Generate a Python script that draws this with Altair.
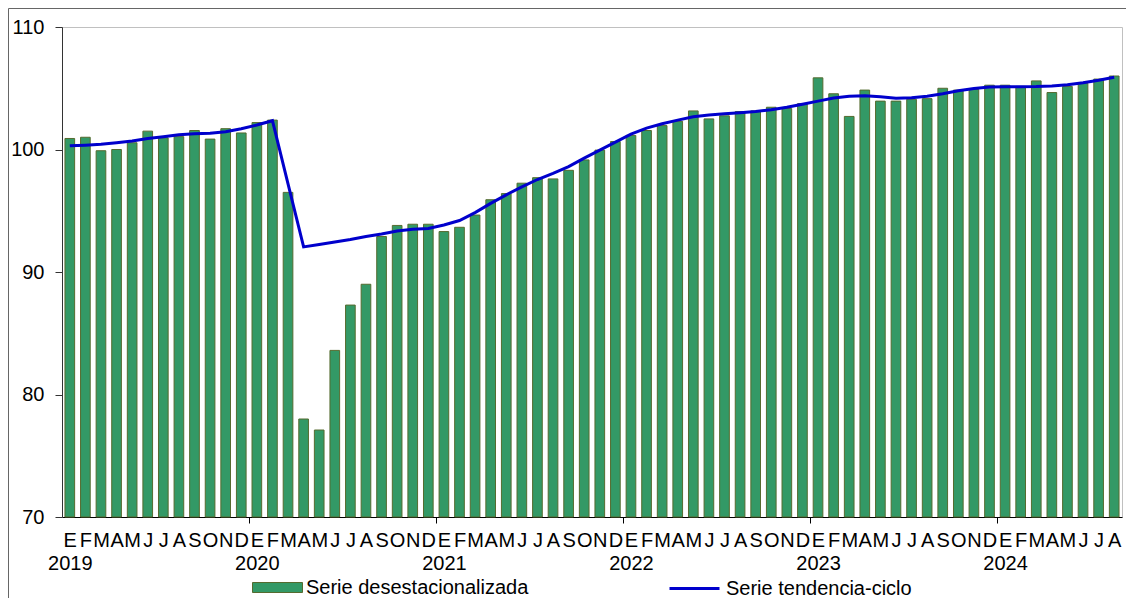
import json
import altair as alt
import pandas as pd

# ---------------- data ----------------
MONTH_LETTERS = ["E", "F", "M", "A", "M", "J", "J", "A", "S", "O", "N", "D"]
FIRST_YEAR = 2019

SERIES_BAR = "Serie desestacionalizada"
SERIES_LINE = "Serie tendencia-ciclo"

desest = [
    100.9, 101.0, 99.9, 100.0, 100.55, 101.5, 100.95, 101.05, 101.55, 100.85, 101.7, 101.35,
    102.2, 102.4, 96.5, 78.0, 77.1, 83.6, 87.3, 89.0, 92.9, 93.8, 93.9, 93.9,
    93.3, 93.65, 94.65, 95.9, 96.4, 97.25, 97.7, 97.6, 98.3, 99.15, 99.95, 100.65,
    101.15, 101.55, 101.95, 102.3, 103.15, 102.5, 102.75, 103.1, 103.15, 103.45, 103.35, 103.75,
    105.85, 104.55, 102.7, 104.85, 103.95, 103.95, 104.1, 104.15, 105.0, 104.85, 104.9, 105.25,
    105.25, 105.15, 105.6, 104.65, 105.15, 105.4, 105.75, 106.0,
]

tendencia = [
    100.3, 100.35, 100.42, 100.55, 100.7, 100.9, 101.05, 101.2, 101.28, 101.33, 101.45, 101.7,
    102.0, 102.35, 97.2, 92.05, 92.25, 92.45, 92.65, 92.9, 93.1, 93.35, 93.48, 93.56,
    93.84, 94.2, 94.85, 95.6, 96.3, 96.95, 97.55, 98.05, 98.6, 99.3, 99.95, 100.6,
    101.25, 101.75, 102.1, 102.4, 102.68, 102.82, 102.92, 103.0, 103.1, 103.25, 103.45, 103.7,
    103.95, 104.2, 104.35, 104.38, 104.3, 104.18, 104.22, 104.35, 104.55, 104.8, 104.98, 105.1,
    105.13, 105.13, 105.14, 105.18, 105.28, 105.45, 105.65, 105.89,
]

Y_MIN, Y_MAX = 70, 110
Y_TICKS = [70, 80, 90, 100, 110]

df = pd.DataFrame({
    "idx": list(range(len(desest))),
    "desest": desest,
    "tend": tendencia,
    "sb": SERIES_BAR,
    "sl": SERIES_LINE,
})

# ---------------- style ----------------
FONT = "Liberation Sans"
FS = 20
W, H = 1060, 490
BAR_FILL = "#339966"
BAR_STROKE = "#556b2f"
LINE_COLOR = "#0000cc"

label_expr = (
    f"[{json.dumps(MONTH_LETTERS)}[datum.value % 12], "
    f"datum.value % 12 == 0 ? '' + ({FIRST_YEAR} + floor(datum.value / 12)) : '']"
)

x_enc = alt.X(
    "idx:O",
    title=None,
    scale=alt.Scale(paddingInner=0, paddingOuter=0),
    axis=alt.Axis(
        labelExpr=label_expr,
        labelAngle=0,
        labelOverlap=False,
        labelFont=FONT,
        labelFontSize=FS,
        labelColor="black",
        labelLineHeight=23,
        labelPadding=7,
        tickBand="extent",
        tickSize=6,
        tickColor="black",
        tickOpacity={"condition": {"test": "datum.value % 12 === 11", "value": 1}, "value": 0},
        domainColor="black",
    ),
)

y_scale = alt.Scale(domain=[Y_MIN, Y_MAX], nice=False, zero=False)

base = alt.Chart(df)

bars = base.mark_bar(
    width=alt.RelativeBandSize(0.62), stroke=BAR_STROKE, strokeWidth=1
).encode(
    x=x_enc,
    y=alt.Y(
        "desest:Q",
        scale=y_scale,
        title=None,
        axis=alt.Axis(
            values=Y_TICKS,
            grid=False,
            tickSize=7,
            labelPadding=11,
            labelFont=FONT,
            labelFontSize=FS,
            labelColor="black",
            domainColor="#333333",
            tickColor="#333333",
        ),
    ),
    y2=alt.datum(Y_MIN),
    fill=alt.Fill(
        "sb:N",
        scale=alt.Scale(domain=[SERIES_BAR], range=[BAR_FILL]),
        legend=alt.Legend(
            title=None,
            orient="none",
            legendX=190,
            legendY=535,
            symbolType="M-1,-0.2H1V0.2H-1Z",
            symbolSize=2500,
            symbolStrokeColor=BAR_STROKE,
            symbolStrokeWidth=1,
            labelFont=FONT,
            labelFontSize=FS,
            labelColor="black",
            labelOffset=3,
            labelLimit=0,
            padding=0,
        ),
    ),
)

line = base.mark_line(strokeWidth=3).encode(
    x=x_enc,
    y=alt.Y("tend:Q", scale=y_scale),
    stroke=alt.Stroke(
        "sl:N",
        scale=alt.Scale(domain=[SERIES_LINE], range=[LINE_COLOR]),
        legend=alt.Legend(
            title=None,
            orient="none",
            legendX=606,
            legendY=535,
            symbolType="stroke",
            symbolSize=2500,
            symbolStrokeWidth=3,
            labelFont=FONT,
            labelFontSize=FS,
            labelColor="black",
            labelOffset=5,
            labelLimit=0,
            padding=0,
        ),
    ),
)

frame_df = pd.DataFrame({"k": [0]})
frame_left = alt.Chart(frame_df).mark_rule(color="#666666", strokeWidth=1).encode(
    x=alt.value(-53.5), y=alt.value(-18.5), y2=alt.value(H + 81)
)
frame_top = alt.Chart(frame_df).mark_rule(color="#666666", strokeWidth=1).encode(
    x=alt.value(-53.5), x2=alt.value(W + 4), y=alt.value(-18.5)
)

chart = (
    alt.layer(frame_left, frame_top, bars, line)
    .resolve_scale(fill="independent", stroke="independent")
    .properties(
        width=W,
        height=H,
        padding={"left": 54, "top": 19, "right": 4, "bottom": 81},
        autosize=alt.AutoSizeParams(type="none"),
    )
    .configure_view(stroke="#c0c0c0", strokeWidth=1)
)

chart.save("out.html", embed_options={"renderer": "svg", "actions": False})
